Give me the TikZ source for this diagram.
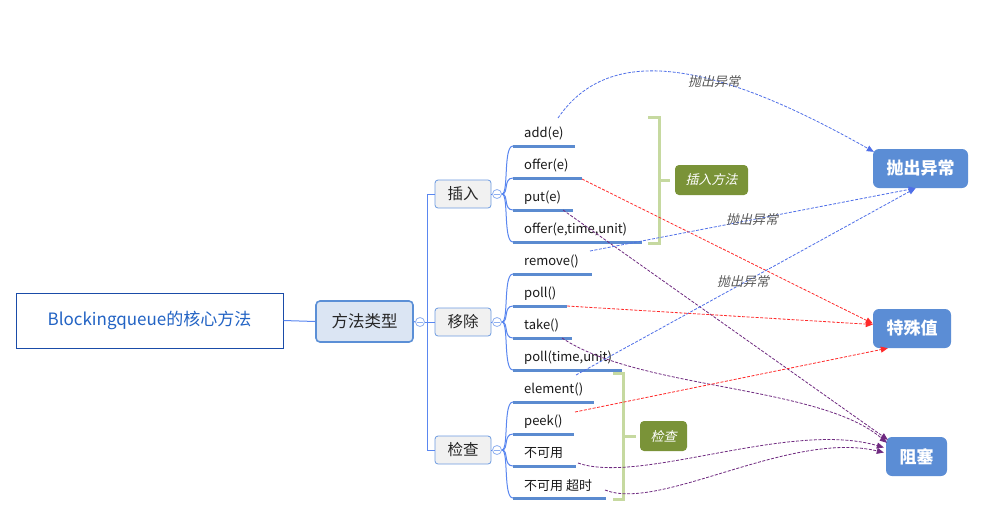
\documentclass[tikz,border=0pt]{standalone}
\usepackage{fontspec}
\setmainfont{Noto Sans CJK SC}
\newfontfamily\slantfont[FakeSlant=0.22]{Noto Sans CJK SC}
\usetikzlibrary{arrows.meta,calc}
\definecolor{rootline}{HTML}{1A4CA8}
\definecolor{roottext}{HTML}{2263C4}
\definecolor{midfill}{HTML}{DBE5F3}
\definecolor{midline}{HTML}{5B8FD6}
\definecolor{catfill}{HTML}{F1F1F1}
\definecolor{catline}{HTML}{6D9BE0}
\definecolor{branchc}{HTML}{5A87F0}
\definecolor{ulinec}{HTML}{5B8BD0}
\definecolor{resfill}{HTML}{5B8DD5}
\definecolor{olive}{HTML}{7A9338}
\definecolor{brkc}{HTML}{C6D9A0}
\definecolor{labc}{HTML}{595959}
\definecolor{arrblue}{HTML}{4F6FE8}
\definecolor{arrred}{HTML}{FF2A2A}
\definecolor{arrpurple}{HTML}{6F2A80}
\definecolor{circc}{HTML}{8FB0F0}
\tikzset{
  rootbox/.style={draw=rootline, line width=1pt, minimum width=267, minimum height=55, inner sep=0, text=roottext, font=\fontsize{17}{19}\selectfont},
  midbox/.style={draw=midline, fill=midfill, line width=1.6pt, rounded corners=4, minimum width=97, minimum height=41, inner sep=0, text=black!85, font=\fontsize{16.5}{18}\selectfont},
  catbox/.style={draw=catline, fill=catfill, line width=0.8pt, rounded corners=3, minimum width=56, minimum height=28, inner sep=0, text=black!85, font=\fontsize{15.5}{17}\selectfont},
  itemtext/.style={anchor=west, inner sep=0, text=black!90, font=\fontsize{13}{15}\selectfont},
  uline/.style={draw=ulinec, line width=3pt},
  branch/.style={draw=branchc, line width=1pt},
  collapse/.style={circle, draw=circc, fill=white, line width=0.8pt, minimum size=9, inner sep=0,
    path picture={\draw[circc, line width=0.8pt] ($(path picture bounding box.west)+(1.5,0)$) -- ($(path picture bounding box.east)+(-1.5,0)$);}},
  resbox/.style={fill=resfill, rounded corners=6, inner sep=0, text=white, font=\fontsize{17}{19}\selectfont\bfseries},
  summbox/.style={fill=olive, rounded corners=4, inner sep=0, text=white, font=\fontsize{13}{15}\selectfont\slantfont},
  brk/.style={draw=brkc, line width=3pt},
  lab/.style={inner sep=0, text=labc, font=\fontsize{13}{15}\selectfont\slantfont},
  tip/.style={-{Triangle[length=7pt,width=6pt]}},
  blueArr/.style={tip, draw=arrblue, line width=0.8pt, dash pattern=on 3pt off 1.5pt},
  redArr/.style={tip, draw=arrred, line width=0.8pt, dash pattern=on 3pt off 1.5pt},
  purpleArr/.style={tip, draw=arrpurple, line width=0.8pt, dash pattern=on 3pt off 1.5pt},
}
\newcommand\mitem[4]{%
  \coordinate (#1s) at (513,#2);
  \coordinate (#1e) at (#3,#2);
  \draw[uline] (#1s) -- (#1e);
  \node[itemtext] (#1) at (524,#2-12.5) {#4};
}
\begin{document}
\begin{tikzpicture}[x=1pt,y=-1pt]
\useasboundingbox[fill=white] (0,0) rectangle (984,528);

% main nodes
\node[rootbox] (root) at (149.5,320.5) {Blockingqueue的核心方法};
\node[midbox] (mid) at (364.5,321.5) {方法类型};
\node[collapse] (c0) at (420,322) {};
\node[catbox] (ins) at (463,194) {插入};
\node[catbox] (rem) at (463,322) {移除};
\node[catbox] (chk) at (463,450) {检查};
\coordinate (j1) at (427,194);
\coordinate (j3) at (427,450);

\draw[branch] (root.east) -- (mid.west);
\draw[branch] (mid.east) -- (c0.west);
\draw[branch] (c0.east) -- (rem.west);
\draw[branch] (ins.west) -- (j1) -- (j3) -- (chk.west);

\node[collapse] (c1) at (497,194) {};
\node[collapse] (c2) at (497,322) {};
\node[collapse] (c3) at (497,450) {};
\draw[branch] (ins.east) -- (c1.west);
\draw[branch] (rem.east) -- (c2.west);
\draw[branch] (chk.east) -- (c3.west);

% items
\mitem{i1}{146}{575}{add(e)}
\mitem{i2}{178}{582}{offer(e)}
\mitem{i3}{210}{573}{put(e)}
\mitem{i4}{242}{642}{offer(e,time,unit)}
\mitem{r1}{274}{592}{remove()}
\mitem{r2}{306}{567}{poll()}
\mitem{r3}{338}{572}{take()}
\mitem{r4}{370}{622}{poll(time,unit)}
\mitem{k1}{402}{594}{element()}
\mitem{k2}{434}{574}{peek()}
\mitem{k3}{466}{576}{不可用}
\mitem{k4}{498}{606}{不可用 超时}

\foreach \n in {i1,i2,i3,i4} \draw[branch] (c1.east) .. controls +(7,0) and +(-10,0) .. (\n s);
\foreach \n in {r1,r2,r3,r4} \draw[branch] (c2.east) .. controls +(7,0) and +(-10,0) .. (\n s);
\foreach \n in {k1,k2,k3,k4} \draw[branch] (c3.east) .. controls +(7,0) and +(-10,0) .. (\n s);

% summary brackets
\node[summbox, minimum width=73, minimum height=30] (sum1) at (711.5,180) {插入方法};
\coordinate (b1t) at (648,117);
\coordinate (b1b) at (648,243);
\coordinate (b1m) at (659,180);
\draw[brk] (b1t) -- (659,117) -- (659,243) -- (b1b);
\draw[brk] (b1m) -- (670,180);

\node[summbox, minimum width=47, minimum height=30] (sum2) at (663.5,436) {检查};
\coordinate (b2t) at (613,373);
\coordinate (b2b) at (613,499);
\coordinate (b2m) at (623,436);
\draw[brk] (b2t) -- (623,373) -- (623,499) -- (b2b);
\draw[brk] (b2m) -- (636,436);

% result nodes
\node[resbox, minimum width=95, minimum height=39] (exc) at (920.5,168.5) {抛出异常};
\node[resbox, minimum width=78, minimum height=39] (spec) at (912,328.5) {特殊值};
\node[resbox, minimum width=61, minimum height=39] (blk) at (916.5,456.5) {阻塞};

% arrow start points
\coordinate (a1) at (558,118);
\coordinate (a2) at (582,179);
\coordinate (a3) at (563,210);
\coordinate (a4) at (590,251);
\coordinate (a5) at (576,375);
\coordinate (a6) at (567,306);
\coordinate (a7) at (562,338);
\coordinate (a8) at (575,412);
\coordinate (a9) at (578,463);
\coordinate (a10) at (605,490);

% arrows
\draw[blueArr] (a1) .. controls (610,42) and (715,62) .. ($(exc.north west)+(1,3)$);
\node[lab] (l1) at (714,82) {抛出异常};
\draw[redArr] (a2) -- ($(spec.west)+(0,-5)$);
\draw[purpleArr] (a3) -- ($(blk.north west)+(2,3)$);
\draw[blueArr] (a4) -- ($(exc.south)+(-5,0)$);
\node[lab] (l2) at (752,220) {抛出异常};
\draw[blueArr] (a5) -- ($(exc.south)+(-5,0)$);
\node[lab] (l3) at (743,282) {抛出异常};
\draw[redArr] (a6) -- ($(spec.west)+(0,-4)$);
\draw[purpleArr] (a7) .. controls (640,390) and (820,385) .. ($(blk.north west)+(1,6)$);
\draw[redArr] (a8) -- ($(spec.south west)+(15,0)$);
\draw[purpleArr] (a9) .. controls (640,485) and (790,420) .. ($(blk.west)+(-2,-9)$);
\draw[purpleArr] (a10) .. controls (660,512) and (790,430) .. ($(blk.west)+(-2,-4)$);
\end{tikzpicture}
\end{document}
